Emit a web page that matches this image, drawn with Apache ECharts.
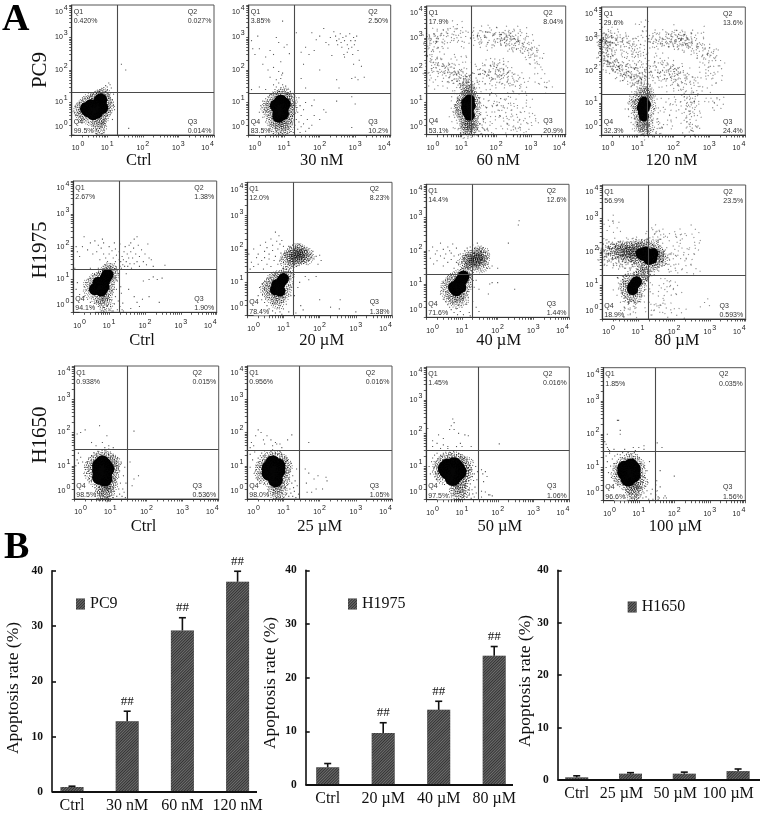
<!DOCTYPE html>
<html><head><meta charset="utf-8">
<style>html,body{margin:0;padding:0;background:#fff}#c{width:765px;height:816px}</style>
<script src="https://cdn.jsdelivr.net/npm/echarts@6/dist/echarts.min.js"></script>
</head><body><div id="c"></div>
<script>
// ---------- PC9 flow panels (FITC x, PI y) ----------
const pc9CtrlCore=[[3,5.5],[4,6.5],[5,8],[6,10],[3.5,8],[5,5],[4,4.5],[7,7],[6.5,12],[2.6,6.5]];
const pc9CtrlHalo=[[2,4],[2,7],[1.7,6],[2.5,9.5],[3,11],[4.5,12],[5,14],[7,15],[8,13],[9,10],[10,8],[9,6],[8,4.5],[7,3.5],[6,3],[5.5,2.2],[6,1.7],[3,3.2],[2.3,5],[8,17],[6,15.5]];
const pc9CtrlDots=[[1.2,5],[1.3,7.5],[1.4,4],[1.5,8.5],[1.6,3.5],[1.7,10],[1.8,2.8],[2,12],[2.2,3],[2.4,13],[2.8,14],[3,2.4],[3.5,16],[4,2],[4,18],[5,1.5],[5,20],[6,1.2],[6,22],[6.5,1.8],[7,1.1],[7,19],[7.5,2.5],[8,1.4],[8,25],[8.5,3],[9,22],[9,2],[10,30],[10,4],[11,5],[11,18],[12,14],[12,7],[12,35],[13,10],[13,28],[14,12],[14,3],[15,8],[9,33],[5,1.1],[5.5,1.3],[6,1.6],[7,2.2],[8,1.2],[4.5,1.8],[15,18],[16,6],[40,1.6],[25,150],[33,100],[8,29],[10,24],[11,40]];

const pc9N30Core=[[7,6],[9,7],[10,9],[8,5],[6,8],[9,4.5],[8,11],[7,3.8]];
const pc9N30Halo=[[4,5],[4,8],[5,11],[6,14],[8,15],[10,14],[12,11],[13,8],[13,5],[12,3.5],[11,2.5],[8,2.4],[6,2.5],[5,3],[6,1.7],[9,1.6],[12,1.9],[3.5,6.5],[10,18],[15,6],[15,12]];
const pc9N30Dots=[[2,5],[2.2,8],[2.5,3.5],[2.5,11],[2.8,6],[3,2.5],[3,13],[3.2,9],[3.5,2],[3.5,15],[4,1.6],[4,18],[4.5,1.3],[5,1.1],[5,20],[5.5,25],[6,1.3],[6,30],[7,1.1],[7,22],[7,40],[8,1.2],[8,28],[8,55],[8.5,70],[9,35],[9,1.1],[9,80],[10,1.2],[10,26],[11,1.4],[11,32],[12,1.1],[12,25],[13,1.5],[13,20],[14,1.2],[14,3],[15,1.8],[15,22],[16,2.5],[16,9],[17,4],[17,15],[18,1.2],[18,6],[20,2],[20,11],[22,3],[22,7],[24,1.5],[24,5],[26,2.5],[26,14],[28,1.2],[28,8],[30,4],[30,1.8],[35,2.2],[35,6],[40,1.3],[40,10],[45,3],[50,1.6],[60,2],[60,8],[70,4],[100,3],[130,6],[800,1.7],
[1.2,800],[1.3,450],[1.5,300],[1.8,1100],[2,450],[2.5,150],[3,250],[3.5,100],[4,400],[5,300],[5,120],[6,1000],[7,700],[8,180],[9,3200],[10,500],[12,600],[14,320],[6,50],[4,60],[2,30],[3,25],[1.2,25],[5,35],[7,90],
[22,1400],[30,350],[35,150],[40,500],[50,300],[60,1400],[70,400],[80,850],[100,1100],[130,1900],[150,700],[180,600],[200,1000],[220,280],[250,1500],[280,1100],[300,800],[320,600],[350,900],[380,1300],[400,700],[420,500],[450,1000],[480,300],[500,800],[550,1100],[600,600],[650,450],[700,1300],[750,800],[800,500],[850,300],[900,1000],[950,600],[1000,800],[1100,1100],[1200,400],[1300,200],[1500,130],[1000,60],[1200,50],[800,55],[300,50],[350,28],[30,55],[40,28],[100,100],[500,250],[1800,60],[600,350],[900,150],[800,15],[1000,9],[300,11],[150,5],[70,12]];

const pc9N60Core=[[15,8],[16,6],[14,10],[17,12],[15,5],[17,4],[14,7],[18,8]];
const pc9N60Halo=[[10,8],[10,5],[11,12],[12,3.5],[13,2.5],[15,2],[18,2.4],[20,3.2],[22,5],[24,8],[22,11],[20,15],[16,17],[13,15],[9,6],[17,22],[18,1.5],[14,1.6],[20,1.9],[15,28]];
const pc9N60Dots=[[6,5],[6.5,9],[7,3],[7,7],[7.5,12],[8,2.2],[8,15],[8.5,4],[9,1.6],[9,18],[9.5,11],[10,1.2],[10,21],[11,1.4],[11,26],[12,1.1],[12,19],[13,1.2],[13,33],[14,1.1],[14,40],[15,25],[16,30],[16,1.1],[18,45],[19,1.2],[20,25],[21,1.5],[22,30],[23,1.1],[24,2],[25,13],[26,1.3],[27,3],[28,6],[28,18],[30,1.5],[30,10],[32,2.2],[33,4],[35,1.2],[36,7],[40,1.8],[40,3],[45,1.3],[50,2.2],[55,5],[60,1.4],[70,1.2],
[1.1,900],[1.2,1200],[1.3,700],[1.4,1000],[1.5,800],[1.6,1300],[1.8,1100],[2,800],[2.2,1000],[2.5,1300],[2.8,900],[3,1700],[3.5,800],[4,1500],[5,900],[5.5,2200],[6,1200],[7,1900],[8,800],[9,1500],[10,2100],[12,700],[14,1100],[1.1,300],[1.2,200],[1.3,140],[1.4,250],[1.5,110],[1.6,180],[1.8,130],[2,90],[2,240],[2.2,160],[2.5,110],[2.8,170],[3,80],[3,130],[3.5,110],[3.8,70],[4,95],[4.2,150],[4.5,60],[5,120],[5,75],[5.5,90],[6,55],[6,110],[6.5,70],[7,85],[7.5,50],[8,65],[8.5,100],[9,45],[9.5,60],[10,75],[10,40],[11,50],[11,32],[12,65],[12,38],[13,50],[13,28],[14,60],[15,80],[16,45],[17,60],[18,35],[1.2,80],[1.3,50],[4,30],[2,35],[7,200],[10,250],[14,180],[1.1,600],[1.5,400],[2,500],[3,450],
[22,1500],[25,900],[28,1300],[30,700],[33,1100],[36,1700],[40,800],[45,1300],[50,1000],[55,600],[60,1500],[65,900],[70,1900],[80,800],[90,1300],[100,700],[110,1000],[120,1600],[130,850],[140,1200],[150,1000],[160,900],[170,1100],[180,800],[190,1000],[200,1300],[210,700],[220,1700],[230,950],[240,550],[250,1200],[260,800],[280,1000],[300,600],[320,900],[340,1800],[360,700],[380,500],[400,1100],[420,800],[450,450],[480,650],[500,1300],[550,700],[600,500],[650,900],[700,400],[750,1500],[800,300],[850,600],[900,700],[950,250],[1000,500],[1100,350],[1200,200],[1300,500],[1400,120],[1500,300],[1700,250],[2000,100],[2500,40],[3000,30],[1800,40],
[25,60],[28,100],[30,40],[33,75],[36,120],[40,60],[45,90],[48,35],[50,150],[55,70],[60,110],[65,45],[70,85],[75,130],[80,60],[85,180],[90,100],[95,50],[100,75],[105,130],[110,170],[115,60],[120,95],[130,40],[135,120],[140,75],[150,150],[160,55],[170,100],[180,30],[190,80],[200,120],[220,60],[240,90],[260,35],[280,70],[300,50],[350,30],[400,45],[500,35],[600,60],[700,30],
[100,15],[110,10],[120,6],[130,4],[150,8],[160,2.5],[180,12],[200,5],[210,1.6],[220,3],[250,9],[280,1.3],[300,6],[320,2],[350,13],[380,1.2],[400,4],[450,2.5],[500,1.5],[550,7],[600,1.1],[700,3],[800,12],[900,5],[1000,2],[1300,3],[80,7],[70,18],[60,12],[90,3]];

const pc9N120Core=[[14,9],[16,7],[13,7],[15,11],[14,5],[17,9],[15,3.8]];
const pc9N120Halo=[[10,8],[11,5],[12,12],[17,16],[20,12],[20,6],[13,3],[18,3],[15,2],[12,2],[19,20],[15,20],[9,11],[16,1.5]];
const pc9N120Dots=[[6,9],[7,5],[7,12],[7.5,7],[8,3],[8,15],[8.5,10],[9,4],[9,2.5],[9.5,17],[10,2],[10,14],[11,1.5],[11,19],[11,3],[12,1.2],[12,22],[13,1.1],[13,16],[14,1.3],[14,25],[15,1.1],[16,30],[17,40],[18,1.2],[18,30],[19,1.5],[20,2],[21,35],[22,8],[22,1.2],[23,15],[24,3],[25,5],[26,1.4],[27,11],[28,2],[30,7],[30,1.2],[33,3],[36,1.5],[40,5],[45,1.2],[50,2.2],[16,50],[17,65],[18,90],[16,120],[15,70],[18,160],
[1,1200],[1,900],[1,700],[1,500],[1.1,1500],[1.1,1000],[1.1,800],[1.1,600],[1.2,1300],[1.2,950],[1.2,750],[1.2,550],[1.2,400],[1.3,1100],[1.3,850],[1.3,650],[1.4,1400],[1.4,900],[1.4,480],[1.5,1100],[1.5,750],[1.6,1300],[1.6,600],[1.7,900],[1.8,1500],[1.8,700],[2,1100],[2,500],[2.2,800],[2.5,1300],[2.5,600],[2.8,1000],[3,700],[3.2,1200],[3.5,450],[3.8,850],[4,1000],[4.5,600],[5,1100],[5,350],[5.5,800],[6,500],[6.5,900],[7,300],[7.5,700],[8,450],[8.5,250],[9,600],[10,350],[10,900],[11,200],[12,500],[13,300],[14,1200],[15,2500],[15,450],[13,3200],
[1,350],[1,250],[1.1,300],[1.1,200],[1.2,280],[1.2,170],[1.3,220],[1.4,330],[1.4,180],[1.5,260],[1.5,140],[1.6,200],[1.7,290],[1.7,130],[1.8,170],[1.9,240],[2,150],[2,110],[2.2,200],[2.2,130],[2.4,160],[2.5,100],[2.6,230],[2.8,130],[3,170],[3,85],[3.2,110],[3.5,140],[3.5,70],[3.8,95],[4,190],[4,120],[4.2,60],[4.5,90],[5,130],[5,70],[5.5,50],[5.5,105],[6,85],[6.5,60],[6.5,150],[7,100],[7,45],[7.5,75],[8,55],[8,120],[8.5,40],[9,85],[9,32],[9.5,60],[10,45],[10,130],[10.5,75],[11,35],[11.5,55],[12,28],[12,90],[13,45],[13,65],[14,30],[14,85],
[20,1300],[22,900],[24,1100],[26,700],[28,1200],[30,850],[33,1000],[35,500],[38,1300],[40,800],[45,1100],[50,700],[55,1000],[60,1300],[65,800],[70,1100],[75,600],[80,1400],[85,950],[90,800],[95,1200],[100,650],[110,1000],[115,1800],[120,800],[125,1300],[130,600],[140,1100],[150,900],[155,1500],[160,700],[170,1000],[175,800],[180,1200],[190,600],[200,1000],[210,800],[220,1300],[230,700],[240,900],[250,550],[260,1100],[280,800],[300,1000],[320,600],[350,800],[380,450],[400,1400],[420,350],[450,650],[500,500],[550,800],[600,300],[650,1600],[700,450],[750,250],[800,550],[850,350],[900,180],[1000,500],[1100,300],[1200,400],[1300,150],[1500,300],[2000,200],[1800,90],
[22,150],[25,70],[28,200],[30,100],[32,40],[35,140],[38,65],[40,250],[42,90],[45,170],[48,50],[50,110],[55,75],[60,140],[65,100],[68,35],[70,180],[75,80],[80,120],[85,60],[90,100],[95,150],[100,70],[105,45],[110,110],[115,85],[120,55],[125,130],[130,35],[140,80],[150,60],[160,100],[170,45],[180,30],[200,70],[220,40],[250,90],[280,50],[300,28],[350,60],[400,35],[500,45],[600,25],[700,150],[800,80],[1000,100],[1200,60],[1500,45],
[100,15],[120,8],[150,18],[180,5],[200,13],[220,2.5],[230,9],[240,1.6],[250,16],[260,6],[270,3],[280,12],[290,1.2],[300,8],[310,4],[320,14],[330,2],[340,10],[350,1.4],[370,5],[380,16],[400,1.8],[420,7],[450,3],[500,12],[80,6],[60,10],[70,2],[90,3],[1100,15],[1300,10],[1600,8],[2000,12]];

// ---------- H1975 flow panels ----------
const h1975CtrlCore=[[5,6],[6,7],[7,8.5],[8,11],[5,8],[7,6],[9,14],[4,5],[6,4.6]];
const h1975CtrlHalo=[[3,4.5],[3,7],[4,9.5],[5.5,11],[7,13],[10,10],[9.5,7],[9,5],[8,3.7],[6,3],[11,17],[12,14],[7,2.3],[5,2.8],[10,20],[8,17],[8,1.7]];
const h1975CtrlDots=[[2,3],[2,6],[2.3,8],[2.5,2.5],[2.6,10],[3,2],[3,11],[3.5,13],[4,1.9],[4,14],[4.5,2.1],[5,1.5],[5,16],[6,1.1],[6,1.8],[6.5,19],[7,1.4],[7,1.1],[8,1.2],[8.5,22],[9,1.6],[9,2.5],[10,1.2],[10,3.5],[11,1.5],[11,25],[12,2.4],[12,4.5],[13,1.1],[13,7],[13,20],[14,30],[14,1.8],[15,3],[15,11],[16,5],[16,24],[17,1.2],[17,9],[18,15],[18,2.2],[12,1.1],[7,3],[20,1.5],[21,6],[22,3.8],[23,1.2],[24,1.9],[25,1.1],[1.2,5],[1.5,3.5],[3,1.4],[1.3,8],
[20,25],[21,35],[22,22],[23,50],[24,28],[25,40],[26,70],[27,25],[28,100],[30,35],[32,60],[33,25],[35,45],[36,110],[38,30],[40,70],[40,130],[42,22],[45,45],[48,90],[50,30],[50,170],[55,60],[60,35],[60,200],[65,110],[70,25],[70,50],[80,80],[90,35],[100,60],[110,28],[120,120],[130,45],[150,40],[170,25],[360,27],[19,70],[19,40],[20,120],
[1.2,100],[1.3,70],[1.5,50],[1.8,100],[2,200],[2.5,80],[3,130],[3.5,60],[4,150],[4.5,70],[5,110],[5.5,40],[6,90],[6.5,170],[7,130],[7,60],[8,45],[9,35],[10,100],[10,60],[11,30],[12,75],[13,45],[14,130],[15,35],[15,85],[16,55],[3,22],[5,22],[8,28],[1.1,22],
[30,15],[35,5],[50,3],[60,2],[85,2.5],[90,9],[130,10],[170,12],[220,10],[250,2],[300,11],[130,3],[70,1.5],[40,1.3]];

const h1975U20Core=[[6,6],[7,7],[8,9],[9,11],[10,13],[6.5,8.5],[8,5.5]];
const h1975U20Halo=[[14,55],[18,60],[22,70],[26,60],[30,75],[20,45],[25,50],[35,60],[16,70],[28,90],[40,70],[12,45],[45,55],[22,90],[4,5],[4,8],[5,11],[6,13],[8,14],[11,16],[12,9],[11,6],[9,4],[7,3.5],[5,3.5],[13,18],[7,2.5],[3.5,6.5]];
const h1975U20Dots=[[2,4],[2.2,7],[2.5,3],[2.6,9],[3,2.5],[3,6],[3,11],[3.5,2],[3.5,13],[4,1.6],[4,3.5],[4.5,14],[5,1.4],[5,2.3],[5.5,16],[6,1.2],[6,18],[7,1.7],[7,15],[8,1.3],[8,2],[9,1.1],[9,2.8],[10,1.6],[10,3.5],[10,20],[11,4.5],[12,2.2],[13,6],[13,12],[14,8],[14,1.3],[15,15],[16,4],[14,22],[12,25],[15,26],[10,26],
[9,50],[10,40],[11,65],[12,80],[12,30],[13,100],[14,35],[14,120],[15,45],[15,85],[16,110],[17,30],[17,90],[18,42],[18,130],[19,75],[20,35],[20,100],[21,55],[22,120],[23,30],[23,45],[24,85],[25,65],[25,110],[26,38],[27,140],[28,50],[29,70],[30,95],[31,40],[32,120],[33,55],[34,80],[35,45],[36,105],[38,65],[40,90],[40,40],[42,55],[45,80],[48,65],[50,100],[50,45],[55,70],[60,55],[65,85],[70,50],[80,60],[100,65],[110,45],[90,35],
[1.1,70],[1.2,25],[1.3,40],[1.5,100],[1.5,30],[1.8,55],[2,35],[2,70],[2.3,130],[2.5,45],[2.8,25],[3,85],[3,55],[3.2,160],[3.5,35],[3.5,110],[4,50],[4,70],[4.5,200],[4.5,30],[5,90],[5,130],[5.5,45],[6,320],[6,60],[6.5,170],[7,35],[7,100],[7.5,250],[8,140],[8,45],[8.5,75],[9,180],[10,120],
[40,15],[50,12],[80,15],[100,3],[200,1.8],[350,1.6],[370,3],[1000,1.3],[20,4],[25,7],[30,2],[35,1.5],[22,1.2],[28,10]];

const h1975U40Core=[[7,8],[8,10],[9,12],[10,14],[7,6.5],[9,8],[6,8],[11,17]];
const h1975U40Halo=[[4,6],[4,9],[5,12],[6,14],[8,5],[6,4.5],[5,4],[10,6],[12,9],[13,13],[8,17],[10,3.5],[7,3],[13,20],[14,25],[12,45],[15,50],[18,55],[22,50],[25,55],[28,60],[32,50],[20,40],[25,75],[30,85],[16,65],[40,60],[35,35],[38,80]];
const h1975U40Dots=[[2.5,5],[2.6,8],[3,3.5],[3,7],[3,11],[3.5,3],[3.5,13],[4,2.4],[4,15],[4.5,2],[5,1.7],[5,16],[6,1.4],[6,2.5],[6.5,19],[7,1.8],[7.5,1.2],[8,2.3],[8,22],[9,1.5],[9,3],[10,2],[11,3.5],[11,5],[11,1.2],[13,2.5],[14,6],[15,4],[15,11],[16,1.4],[17,8],[17,1.1],[19,15],[20,3],[22,8],[25,13],[25,2],[30,7],[30,1.5],[60,10],[55,5],[70,11],[100,11],[300,7],
[9,80],[10,45],[10,30],[11,60],[12,100],[13,35],[13,75],[14,120],[15,30],[15,90],[16,45],[17,130],[18,70],[18,38],[19,100],[20,150],[20,28],[21,60],[22,85],[23,120],[24,35],[25,100],[26,45],[27,170],[28,30],[29,75],[30,110],[31,42],[32,130],[33,70],[34,25],[35,95],[36,55],[38,120],[40,35],[42,90],[45,50],[48,70],[50,30],[52,60],[55,40],[60,30],[70,35],[400,800],[380,600],[200,170],[100,30],
[1.2,100],[1.3,60],[1.5,130],[1.6,40],[1.8,80],[2,100],[2,50],[2.5,170],[2.5,70],[3,35],[3,110],[3.2,60],[3.5,80],[4,45],[4,130],[4.5,100],[5,55],[5,85],[5.5,160],[6,30],[6,70],[7,120],[7,45],[8,40],[8,75]];

const h1975U80Core=[[14,80],[18,75],[22,75],[16,100],[20,60],[26,90],[12,90],[24,65],[7,9],[8,11],[9,13],[7,7.5]];
const h1975U80Halo=[[4,100],[5,120],[6,90],[7,130],[8,100],[9,75],[10,110],[5,80],[3,100],[3.5,130],[11,140],[14,130],[18,120],[25,130],[30,70],[32,100],[36,80],[28,50],[20,40],[15,50],[10,60],[2.2,110],[40,60],[5,8],[5,11],[6,14],[10,9],[6,5.5],[8,5],[11,16],[12,19],[14,23]];
const h1975U80Dots=[[1,80],[1,110],[1,140],[1.1,60],[1.1,95],[1.1,170],[1.2,75],[1.2,125],[1.3,55],[1.3,100],[1.3,150],[1.4,85],[1.5,65],[1.5,115],[1.5,190],[1.6,50],[1.6,140],[1.7,90],[1.8,70],[1.8,170],[1.9,110],[2,60],[2,140],[2.1,85],[2.3,45],[2.3,160],[2.5,70],[2.5,130],[2.7,55],[2.8,180],[3,50],[3,75],[3.2,150],[3.5,60],[3.5,40],[3.8,170],[4,55],[4.2,35],[4.5,150],[4.5,65],[5,45],[5,190],[5.5,60],[6,35],[6,160],[6.5,50],[7,180],[7,40],[8,55],[8,170],[9,30],[9,200],[10,40],[11,190],[12,35],[13,220],[14,30],[15,160],[16,35],[17,230],[18,25],[20,190],[22,30],[24,170],[25,35],[26,220],[28,30],[30,150],[32,45],[35,140],[36,40],[38,110],[42,85],[45,40],[45,120],[50,70],[55,100],[60,45],[65,85],[70,60],[80,35],[90,90],[100,65],[110,30],[130,150],[150,60],[180,30],[200,100],[250,90],[300,60],[400,30],
[25,500],[30,350],[35,300],[40,330],[50,320],[60,280],[120,300],[150,350],[160,250],[380,450],[400,150],[400,200],[2,900],[1.5,600],[2.5,500],
[3,8],[3,12],[3.5,5],[3.5,15],[4,4],[4,18],[4.5,3.3],[4.5,7],[5,2.8],[5,14],[5.5,19],[6,3],[6,4],[7,2.5],[7,3.5],[8,3],[9,5],[9,17],[9.5,20],[10,6],[11,4.5],[12,8],[12,15],[13,12],[14,20],[15,3],[16,7],[17,17],[5,1.4],[8,1.5],[6,2],[3,1.3],
[20,15],[25,6],[22,1.8],[28,2.5],[30,1.8],[40,2.3],[50,12],[60,9],[80,13],[90,1.5],[100,8],[110,6],[50,5],[60,2],[750,3],[170,1.6],[55,3]];

// ---------- H1650 flow panels ----------
const h1650CtrlCore=[[5,7],[6,8.5],[7,10],[5,10],[8,8],[6,5],[7,6],[5,4.5],[7,4],[6,12]];
const h1650CtrlHalo=[[3,6],[3,9],[3.5,12],[4.5,15],[6,17],[8,16],[10,14],[11,10],[11,7],[10,5],[9,3.5],[8,2.5],[6,2.2],[7,1.7],[4,3.8],[10,2.8],[12,12],[8,1.4],[6,1.4]];
const h1650CtrlDots=[[2,5],[2,9],[2.2,13],[2.5,4],[2.5,7],[2.5,17],[3,3.5],[3,20],[3.5,25],[4,22],[4.5,27],[5,2.2],[5,1.3],[5.5,20],[6,30],[7,23],[7.5,28],[8,1.1],[9,1.2],[9,22],[10,1.6],[10,2],[10,26],[11,1.3],[11,3.5],[12,1.1],[12,2.2],[12,20],[13,4],[13,8],[13,1.7],[14,13],[14,2.6],[15,1.2],[15,6],[16,10],[16,17],[17,2],[17,4.5],[18,1.4],[18,7],[19,3],[20,12],[21,1.2],[22,2],[23,5],[24,1.6],[25,9],[26,1.1],[27,3],[1.2,15],[1.3,12],[1.5,18],[1.1,10],[1.3,24],[1.7,13],[35,13],[45,4],[60,5],[40,2.5],
[1.2,90],[1.5,100],[2,120],[3,50],[4,40],[5,160],[6,50],[8,80],[9,40],[9,32],[12,35],[7,35],[45,110]];

const h1650U25Core=[[4,6],[5,7],[6,8],[5,9.5],[7,7],[4,8.5],[6,5.5],[7,10],[5,12],[6,3.8]];
const h1650U25Halo=[[2.5,6],[2.7,9],[3.2,12],[4,15],[6,16],[8,15],[9,12],[10,8],[9.5,5],[9,3.5],[7,2.5],[5.5,2.5],[3,4.5],[6,1.7],[8,1.7],[11,10]];
const h1650U25Dots=[[1.7,7],[1.8,10],[1.9,4],[2,13],[2,17],[2.2,3],[2.3,20],[2.5,24],[3,3],[3,21],[3.5,25],[4,20],[4.5,27],[5,1.3],[5,23],[5.5,1.5],[6,25],[6.5,1.1],[7,1.4],[7,22],[8,1.1],[8,27],[9,1.5],[9,2.4],[9,22],[10,1.1],[10,3],[11,2],[11,4.5],[11,18],[12,1.4],[12,6],[12,14],[13,2.7],[13,9],[14,1.2],[14,4],[15,2],[15,7],[16,1.5],[16,12],[17,3],[18,1.2],[18,5],[19,2.2],[20,1.7],[21,3.5],[22,1.1],[23,8],[24,2.5],[26,1.4],[1.2,22],[1.4,15],[1.2,9],[1.6,26],[3,28],[5,30],[40,8],[43,3],[50,6],[60,1.6],[70,4],[80,2],[90,5],[150,4.5],[160,3.5],[120,2],[45,1.6],
[1.3,50],[1.5,40],[1.7,80],[2,120],[2.4,100],[2.8,60],[3,45],[3.5,80],[4.5,60],[5,40],[6,50],[6.5,45],[8,45],[9,35],[1.2,35],[13,60],[17,85],[50,50]];

const h1650U50Core=[[4,7],[5,9],[6,7],[5,6],[7,9],[4,10],[6,11],[7,6],[3.5,8.5],[5.5,4.5],[8,7]];
const h1650U50Halo=[[2.5,7],[2.5,10],[3,13],[4,15],[6,16],[8,14],[10,11],[11,8],[10,5],[9,3.8],[8,2.8],[8,2],[3,5],[7,1.6],[10,1.8],[12,6],[12,12]];
const h1650U50Dots=[[1.2,10],[1.3,6],[1.4,14],[1.5,18],[1.6,9],[1.7,22],[1.8,13],[2,4],[2,6],[2,25],[2.2,17],[2.5,21],[3,25],[3.5,27],[4,21],[4.5,27],[5,23],[6,27],[7,21],[8,25],[9,20],[10,23],[11,1.2],[11,17],[12,1.6],[12,2.5],[13,3.5],[13,14],[14,1.2],[14,5],[14,9],[15,2],[15,7],[16,1.4],[16,11],[17,3],[18,1.1],[18,5],[19,2],[19,8],[20,1.5],[20,15],[21,3.8],[22,1.2],[22,6],[23,2.4],[24,10],[25,1.6],[26,4],[27,7],[35,8],[38,6],[45,7],[50,5],[40,3.5],[45,1.7],[35,1.8],[55,1.4],[60,1.4],[35,1.2],[70,1.3],
[1.1,140],[1.5,60],[2,50],[2.2,90],[3,45],[3,70],[4,40],[4.5,130],[5,170],[5.5,270],[6,130],[6,210],[8,100],[9,50],[10,40],[12,90],[15,85],[18,40],[1.5,40],[2.5,35],[4,35],[7,40],[110,48]];

const h1650U100Core=[[5,6.5],[6,8],[7,9],[5,9],[4,7],[6,5.5],[7,6],[6,11],[5,4.5],[4,9.5]];
const h1650U100Halo=[[2.7,6.5],[3,9.5],[3.5,12],[5,15],[7,15],[9,12],[10,8],[9,5],[8,3.5],[7,2.5],[6,2.7],[3.2,4.8],[8,1.8],[6.5,1.6],[11,3.5],[4,3.6]];
const h1650U100Dots=[[1.2,10],[1.3,15],[1.4,7],[1.6,11],[1.7,5],[1.8,18],[2,4],[2,13],[2.1,22],[2.5,3],[2.5,25],[3,24],[3.5,28],[4,19],[4.5,25],[5,28],[5.5,22],[6,1.2],[6,26],[7,1.2],[7,21],[7.5,28],[8,1.3],[8,19],[9,1.5],[9,2.7],[9,24],[10,1.2],[10,1.9],[10,17],[11,1.5],[11,5],[11,13],[12,2.4],[12,7],[13,1.2],[13,3.5],[14,1.7],[14,10],[15,2.7],[15,5],[16,1.3],[17,2],[17,8],[18,3.5],[19,1.1],[20,15],[22,1.6],[24,2.2],[25,1.1],[30,3],[30,1.5],[32,4],[33,2],[35,1.3],[40,2.6],[40,8],[50,1.2],[55,1.4],[60,1.2],[100,5.5],[1.2,22],[1.5,27],[30,1.9],[35,1.1],[38,1.2],
[1.1,60],[1.2,50],[1.3,40],[1.4,35],[1.3,100],[1.5,32],[2.5,260],[2.7,260],[3,100],[3,130],[2,35],[4,35],[8,32],[7,40],[14,45],[14,35],[10,40],[33,55],[45,40]];

// ---------- Panel tables ----------
const doseLabels=['Ctrl','30 nM','60 nM','120 nM','Ctrl','20 µM','40 µM','80 µM','Ctrl','25 µM','50 µM','100 µM'];
// Q1, Q2, Q3, Q4 percentages
const quadrantPct=[['0.420%','0.027%','0.014%','99.5%'],['3.85%','2.50%','10.2%','83.5%'],['17.9%','8.04%','20.9%','53.1%'],['29.6%','13.6%','24.4%','32.3%'],
['2.67%','1.38%','1.90%','94.1%'],['12.0%','8.23%','1.38%','78.4%'],['14.4%','12.6%','1.44%','71.6%'],['56.9%','23.5%','0.593%','18.9%'],
['0.938%','0.015%','0.536%','98.5%'],['0.956%','0.016%','1.05%','98.0%'],['1.45%','0.016%','1.06%','97.5%'],['1.85%','0.035%','1.56%','96.6%']];
const gateX=[18.8,19.3,19.2,19.1,19.2,18.6,19.5,19.7,29.4,27.4,28.5,28.6];
const gateY=[21,19.2,19.4,19.1,19.9,20.4,20,20.6,30.4,30,30.8,30.6];
const coreSets=[pc9CtrlCore,pc9N30Core,pc9N60Core,pc9N120Core,h1975CtrlCore,h1975U20Core,h1975U40Core,h1975U80Core,h1650CtrlCore,h1650U25Core,h1650U50Core,h1650U100Core];
const haloSets=[pc9CtrlHalo,pc9N30Halo,pc9N60Halo,pc9N120Halo,h1975CtrlHalo,h1975U20Halo,h1975U40Halo,h1975U80Halo,h1650CtrlHalo,h1650U25Halo,h1650U50Halo,h1650U100Halo];
const dotSets=[pc9CtrlDots,pc9N30Dots,pc9N60Dots,pc9N120Dots,h1975CtrlDots,h1975U20Dots,h1975U40Dots,h1975U80Dots,h1650CtrlDots,h1650U25Dots,h1650U50Dots,h1650U100Dots];
// washed-out gate patch in the lower left of some panels
const patches=[[[1.2,1],[4.7,3.6]],[[1.5,1],[3,2]],null,null,[[1.5,1],[4,2.5]],[[1.5,1],[4,2.2]],null,null,[[2,1],[4,3.5]],[[2,1],[5,3]],[[2,1],[6,3.5]],[[2,1],[5,3]]];

// ---------- Bar data ----------
const pc9Doses=['Ctrl','30 nM','60 nM','120 nM'];
const pc9Rate=[0.9,12.8,29.2,38];
const pc9Upper=[1.05,14.6,31.5,39.9];
const h1975Doses=['Ctrl','20 µM','40 µM','80 µM'];
const h1975Rate=[3.3,9.7,14,24.1];
const h1975Upper=[4,11.6,15.6,25.8];
const h1650Doses=['Ctrl','25 µM','50 µM','100 µM'];
const h1650Rate=[0.5,1.2,1.2,1.7];
const h1650Upper=[0.8,1.4,1.5,2.1];
const pc9Sig=['','##','##','##'], h1975Sig=['','##','##','##'], h1650Sig=['','','',''];

// ---------- Layout (pixels) and mark styling ----------
const frames=[[71.7,214,5,135],[248.7,390.7,5,135],[426.7,565.7,6,134.7],[601.7,745.3,7,135],
[73.3,216.7,181,312.3],[247.3,392,182.3,315.7],[426.3,569,184.3,317.3],[602.3,745.7,185,319],
[74.3,218.7,366,499],[247.3,392,366,499],[426.3,569.3,367,499.7],[603.3,745.3,367.7,500.7]];
const nameCenterY=[161,341,527];
const nameShift=[-4,2,2,-2,-3,2,1,3,-3,0,2,1];
const coreSizes=[13,13,11,10,12,11,12,11,15,15,16,15];
const haloSizes=[15,15,14,14,15,15,15,16,16,16,17,16];
const denseDots=[0,0,1,1,0,0,0,1,0,0,0,0];
const barFrames=[{yAt:52,end:257,base:792,top:570.7,first:72,step:55.2,shift:[0,0,0,0],nameX:13,nameY:688,lx:76,ly:596},
{yAt:305.7,end:513,base:785,top:570.3,first:327.7,step:55.5,shift:[0,0,0,0],nameX:270.7,nameY:683,lx:348,ly:596},
{yAt:557.7,end:760,base:780,top:570.3,first:577.3,step:55,shift:[0,18,18,20],nameX:525,nameY:681,lx:627.7,ly:599}];
// event-cloud glyphs: fine irregular speckles instead of a solid disc
const speckPath=list=>'path://'+list.map(([x,y])=>'M'+x+' '+y+'h1.3v1.3h-1.3z').join('');
const cloudSymbol=speckPath([[-11,-2],[-10,3],[-9,-6],[-9,7],[-8,0],[-7,-9],[-7,4],[-6,-3],[-6,10],[-5,-7],[-5,6],[-4,0],[-4,-11],[-3,-5],[-3,3],[-3,8],[-2,-9],[-2,-1],[-1,5],[-1,11],[0,-6],[0,1],[0,-12],[1,8],[1,-3],[2,-10],[2,4],[3,-6],[3,-1],[3,10],[4,6],[5,-9],[5,1],[5,-4],[6,8],[7,-2],[7,4],[8,-7],[9,1],[9,6],[10,-4],[11,2],[-12,0],[12,-1]]);
const tuftSymbol=speckPath([[0,0],[6,3],[-4,6],[3,-5]]);

const LOG_TICKS=[1,2,3,4,5,6,7,8,9,10,20,30,40,50,60,70,80,90,100,200,300,400,500,600,700,800,900,1000,2000,3000,4000,5000,6000,7000,8000,9000,10000];
const DECADES=[1,10,100,1000,10000];
const SANS='"Liberation Sans",Arial,sans-serif', SERIF='"Liberation Serif","Times New Roman",serif';

const grid=[],xAxis=[],yAxis=[],series=[],graphic=[],legend=[];
const decadeLabel={
  fontFamily:SANS,fontSize:7,color:'#222',customValues:DECADES,
  formatter:v=>'{b|10}{s|'+Math.round(Math.log10(v))+'}',
  rich:{b:{fontFamily:SANS,fontSize:7,color:'#222'},s:{fontFamily:SANS,fontSize:7,color:'#222',padding:[0,0,8,1]}}
};
frames.forEach((f,i)=>{
  const [l,r,t,b]=f;
  grid.push({left:l,top:t,width:r-l,height:b-t,show:true,borderColor:'#555',borderWidth:1,backgroundColor:'transparent'});
  const row=Math.floor(i/4), dx=nameShift[i];
  xAxis.push({type:'log',logBase:10,gridIndex:i,min:1,max:10000,name:doseLabels[i],nameLocation:'middle',
    nameGap:nameCenterY[row]-b,nameMoveOverlap:false,
    nameTextStyle:{fontFamily:SERIF,fontSize:16.5,color:'#111',verticalAlign:'middle',padding:[0,dx<0?-2*dx:0,0,dx>0?2*dx:0]},
    axisLine:{show:true,onZero:false,lineStyle:{color:'#333',width:1.2}},
    axisTick:{show:true,length:2.5,customValues:LOG_TICKS,lineStyle:{color:'#333',width:.8}},
    minorTick:{show:false},splitLine:{show:false},
    axisLabel:Object.assign({margin:6,alignMinLabel:'left',alignMaxLabel:'right',showMinLabel:true,showMaxLabel:true,hideOverlap:false},decadeLabel)});
  yAxis.push({type:'log',logBase:10,gridIndex:i,min:1,max:10000,
    axisLine:{show:true,onZero:false,lineStyle:{color:'#333',width:1.2}},
    axisTick:{show:true,length:2.5,customValues:LOG_TICKS,lineStyle:{color:'#333',width:.8}},
    minorTick:{show:false},splitLine:{show:false},
    axisLabel:Object.assign({margin:4,verticalAlignMinLabel:'bottom',verticalAlignMaxLabel:'top',showMinLabel:true,showMaxLabel:true,hideOverlap:false},decadeLabel)});
  const base={type:'scatter',xAxisIndex:i,yAxisIndex:i,silent:true,animation:false,clip:true};
  series.push(Object.assign({},base,{data:coreSets[i],symbolSize:coreSizes[i],itemStyle:{color:'#050505',opacity:1}}));
  series.push(Object.assign({},base,{data:haloSets[i],symbol:cloudSymbol,symbolSize:haloSizes[i],symbolRotate:(v,p)=>p.dataIndex*53,itemStyle:{color:'#000',opacity:.8}}));
  series.push(Object.assign({},base,{data:dotSets[i],
    symbol:denseDots[i]?tuftSymbol:'rect',symbolSize:denseDots[i]?10:1.1,symbolRotate:denseDots[i]?(v,p)=>p.dataIndex*71:0,
    itemStyle:{color:'#111',opacity:denseDots[i]?.5:.7},
    markLine:{silent:true,symbol:'none',animation:false,label:{show:false},lineStyle:{color:'#4a4a4a',width:1.1,type:'solid'},
      data:[{xAxis:gateX[i]},{yAxis:gateY[i]}]}}));
  if(patches[i]) series.push(Object.assign({},base,{data:[[1,1]],symbolSize:0,z:3,
    markArea:{silent:true,animation:false,itemStyle:{color:'rgba(255,255,255,.62)'},
      data:[[{coord:patches[i][0]},{coord:patches[i][1]}]]}}));
  // quadrant captions
  const q=quadrantPct[i], rightX=s=>r-(s.replace(/[.%]/g,'').length*3.9+(s.includes('.')?1.95:0)+6.2)-2.5;
  const cap=(x,y,a,b2)=>graphic.push({type:'text',left:x,top:y,z:50,silent:true,style:{text:a+'\n'+b2,fontFamily:SANS,fontSize:7,lineHeight:9.5,fill:'#333'}});
  cap(l+2,t+2,'Q1',q[0]); cap(rightX(q[1]),t+2,'Q2',q[1]); cap(rightX(q[2]),b-18,'Q3',q[2]); cap(l+2,b-18,'Q4',q[3]);
});

// row titles and panel letters
const rowNames=[['PC9',40,70],['H1975',40.7,250],['H1650',40.7,435]];
rowNames.forEach(([s,x,y])=>graphic.push({type:'text',x,y,rotation:Math.PI/2,z:50,silent:true,
  style:{text:s,fontFamily:SERIF,fontSize:21,fill:'#111',align:'center',verticalAlign:'middle'}}));
[['A',2,1],['B',4,529]].forEach(([s,x,y])=>graphic.push({type:'text',left:x,top:y,z:50,silent:true,
  style:{text:s,fontFamily:SERIF,fontWeight:'bold',fontSize:38,fill:'#000'}}));

// bar charts
const barSets=[['PC9',pc9Doses,pc9Rate,pc9Upper,pc9Sig],['H1975',h1975Doses,h1975Rate,h1975Upper,h1975Sig],['H1650',h1650Doses,h1650Rate,h1650Upper,h1650Sig]];
const hatch={color:'#333',decal:{symbol:'rect',color:'rgba(150,150,150,.6)',dashArrayX:[1,0],dashArrayY:[1,1],rotation:-Math.PI/4,symbolSize:1}};
barSets.forEach(([name,cats,vals,ups,sig],k)=>{
  const F=barFrames[k], gi=12+k, left=F.first-F.step/2, width=F.step*4;
  grid.push({left,top:F.top,width,height:F.base-F.top});
  const rich={};
  cats.forEach((c,j)=>rich['c'+j]={fontFamily:SERIF,fontSize:16,color:'#111',padding:[0,F.shift[j],0,0]});
  xAxis.push({type:'category',gridIndex:gi,data:cats,axisLine:{show:false},axisTick:{show:false},
    axisLabel:{interval:0,margin:6,hideOverlap:false,fontFamily:SERIF,fontSize:16,color:'#111',
      formatter:(v,j)=>'{c'+j+'|'+v+'}',rich}});
  yAxis.push({type:'value',gridIndex:gi,min:0,max:40,interval:10,offset:left-F.yAt,splitLine:{show:false},
    axisLine:{show:true,onZero:false,lineStyle:{color:'#111',width:1.6}},
    axisTick:{show:true,inside:true,length:4,lineStyle:{color:'#111',width:1.6}},
    axisLabel:{margin:9,fontFamily:SERIF,fontWeight:'bold',fontSize:11.5,color:'#111'}});
  series.push({type:'bar',name,xAxisIndex:gi,yAxisIndex:gi,data:vals,barWidth:23,animation:false,silent:true,itemStyle:hatch});
  series.push({type:'custom',xAxisIndex:gi,yAxisIndex:gi,animation:false,silent:true,z:4,
    data:vals.map((v,j)=>[j,v,ups[j]]),encode:{x:0,y:[1,2]},
    renderItem:(p,api)=>{
      const j=api.value(0),a=api.coord([j,api.value(1)]),b=api.coord([j,api.value(2)]);
      const st={stroke:'#111',lineWidth:1.6,fill:null};
      const kids=[{type:'line',shape:{x1:a[0],y1:a[1],x2:b[0],y2:b[1]},style:st},
        {type:'line',shape:{x1:a[0]-3.5,y1:b[1],x2:a[0]+3.5,y2:b[1]},style:st}];
      if(sig[j]) kids.push({type:'text',x:a[0],y:b[1]-10,style:{text:sig[j],fontFamily:SERIF,fontSize:13,fill:'#111',align:'center',verticalAlign:'middle'}});
      return {type:'group',children:kids};
    }});
  legend.push({data:[name],left:F.lx,top:F.ly,padding:0,itemWidth:9,itemHeight:11,selectedMode:false,icon:'rect',
    textStyle:{fontFamily:SERIF,fontSize:16,color:'#111'}});
  graphic.push({type:'line',silent:true,z:10,shape:{x1:F.yAt,y1:F.base,x2:F.end,y2:F.base},style:{stroke:'#111',lineWidth:1.8}});
  graphic.push({type:'text',x:F.nameX,y:F.nameY,rotation:Math.PI/2,z:50,silent:true,
    style:{text:'Apoptosis rate (%)',fontFamily:SERIF,fontSize:17.5,fill:'#111',align:'center',verticalAlign:'middle'}});
});

const chart=echarts.init(document.getElementById('c'),null,{renderer:'canvas'});
chart.setOption({animation:false,backgroundColor:'#fff',grid,xAxis,yAxis,series,graphic,legend});
</script></body></html>
